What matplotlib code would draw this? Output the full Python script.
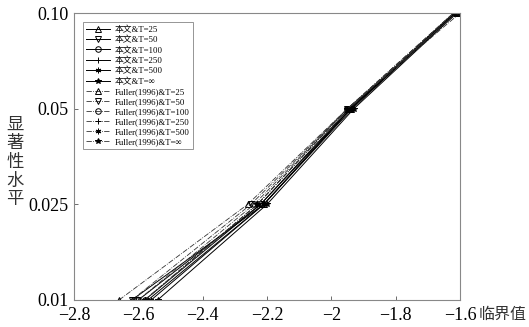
import matplotlib.pyplot as plt

plt.rcParams['font.family'] = ['Liberation Serif', 'Noto Sans CJK SC']

# significance levels (drawn evenly spaced, as in the original)
levels = ['0.01', '0.025', '0.05', '0.10']
sample_labels = ['25', '50', '100', '250', '500', '\u221e']
markers = ['^', 'v', 'o', '+', (6, 2, 0), '*']

# critical values, this paper
ours = [
    [-2.62, -2.21, -1.940, -1.610],
    [-2.60, -2.22, -1.945, -1.615],
    [-2.58, -2.22, -1.940, -1.615],
    [-2.57, -2.21, -1.940, -1.620],
    [-2.56, -2.21, -1.935, -1.615],
    [-2.54, -2.20, -1.930, -1.610],
]
# critical values, Fuller (1996)
fuller = [
    [-2.66, -2.26, -1.95, -1.60],
    [-2.62, -2.25, -1.95, -1.61],
    [-2.60, -2.24, -1.95, -1.61],
    [-2.58, -2.23, -1.95, -1.62],
    [-2.58, -2.23, -1.95, -1.62],
    [-2.58, -2.23, -1.95, -1.62],
]

fig = plt.figure(figsize=(5.29, 3.27), dpi=100)
ax = fig.add_axes([0.1399, 0.0826, 0.7297, 0.8774])

ypos = list(range(len(levels)))
handles = []
for i, t in enumerate(sample_labels):
    h, = ax.plot(ours[i], ypos, color='black', lw=0.7, marker=markers[i],
                 ms=4, mfc='none' if i < 3 else 'black', mec='black', mew=0.7,
                 label='本文&T=' + t)
    handles.append(h)
for i, t in enumerate(sample_labels):
    h, = ax.plot(fuller[i], ypos, color='#333333', lw=0.6, ls='-.',
                 marker=markers[i], ms=4, mfc='none' if i < 3 else 'black',
                 mec='black', mew=0.7, label='Fuller(1996)&T=' + t)
    handles.append(h)

ax.set_xlim(-2.8, -1.6)
ax.set_ylim(0, len(levels) - 1)
ax.set_xticks([-2.8, -2.6, -2.4, -2.2, -2.0, -1.8, -1.6])
ax.set_xticklabels(['\u22122.8', '\u22122.6', '\u22122.4', '\u22122.2',
                    '\u22122', '\u22121.8', '\u22121.6'])
ax.set_yticks(ypos)
ax.set_yticklabels(levels)
ax.tick_params(direction='in', length=3, width=0.6, color='#555555',
               labelsize=13)
ax.tick_params(axis='x', pad=5)
ax.tick_params(axis='y', pad=4)
for s in ax.spines.values():
    s.set_color('#888888')
    s.set_linewidth(0.8)

leg = ax.legend(handles=handles, loc='upper left', bbox_to_anchor=(0.023, 0.968),
                fontsize=6.3, frameon=True, fancybox=False, edgecolor='#666666',
                handlelength=2.8, handletextpad=0.5, labelspacing=0.22,
                borderpad=0.35, borderaxespad=0)
leg.get_frame().set_linewidth(0.6)

fig.text(0.028, 0.505, '显\n著\n性\n水\n平', ha='center', va='center',
         fontsize=12.5, linespacing=1.05, color='#333333',
         family=['Noto Sans CJK SC'])
fig.text(0.904, 0.040, '临界值', ha='left', va='center', fontsize=11.5,
         color='#333333', family=['Noto Sans CJK SC'])

fig.savefig('out.png', dpi=100)
